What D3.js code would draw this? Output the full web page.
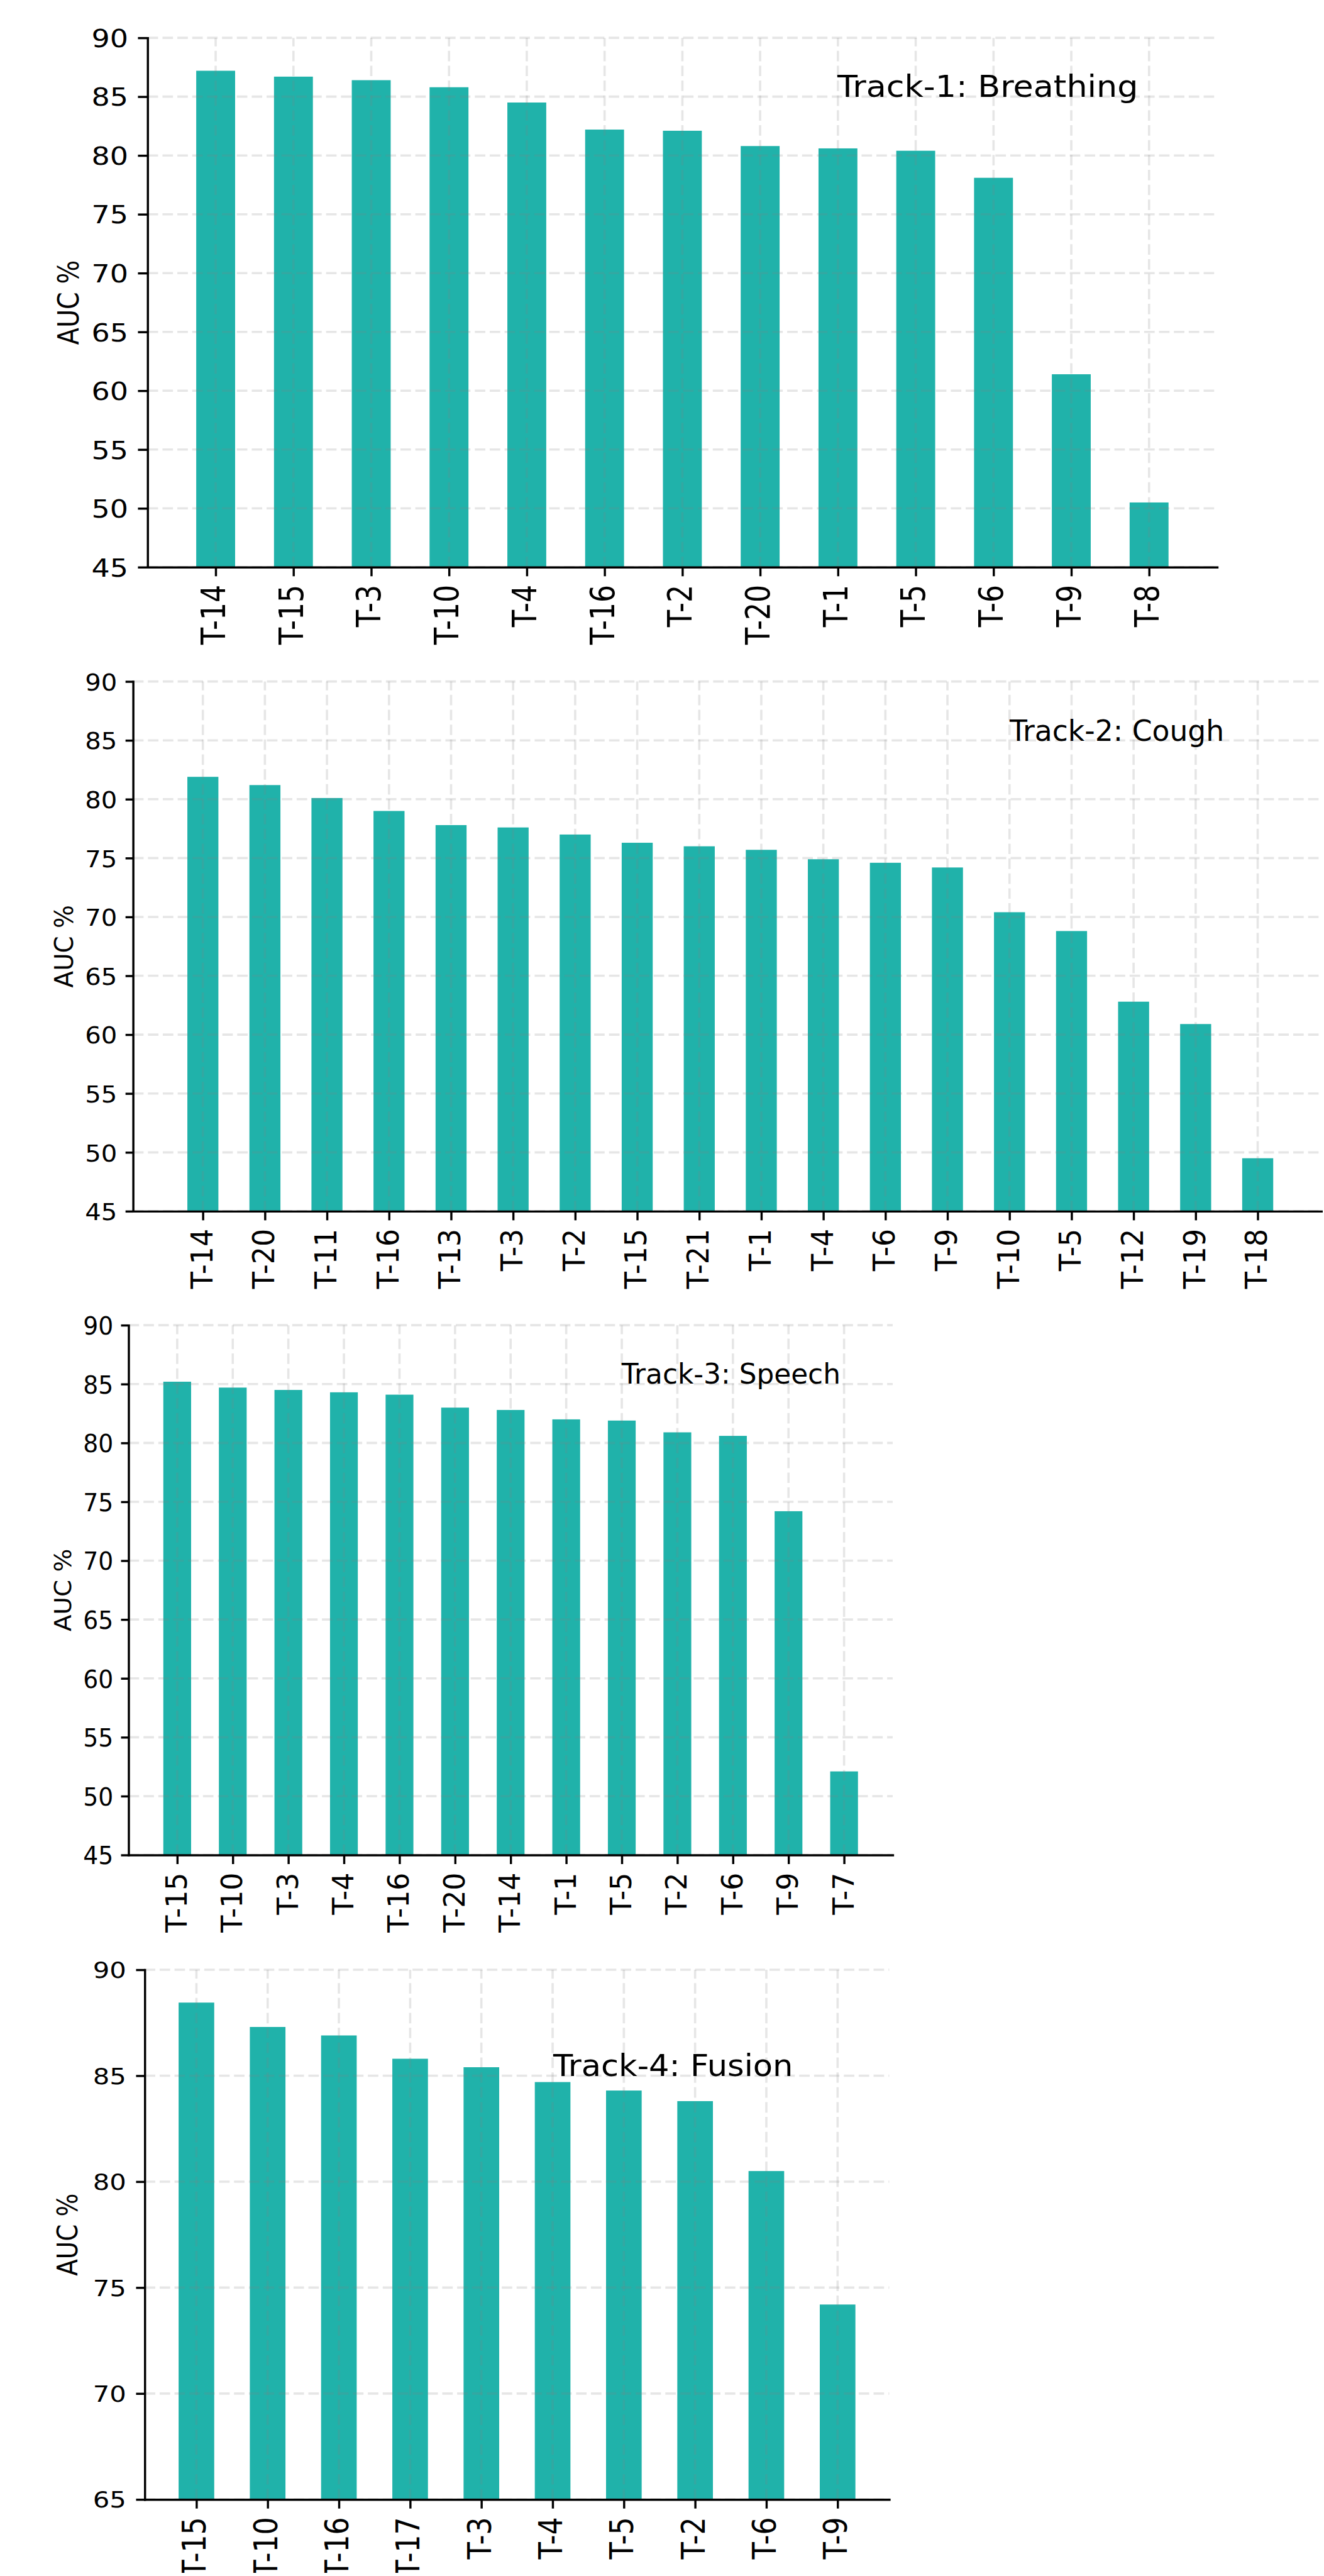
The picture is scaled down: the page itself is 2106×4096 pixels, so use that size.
<!DOCTYPE html>
<html>
<head>
<meta charset="utf-8">
<script src="https://cdn.jsdelivr.net/npm/d3@7"></script>
<style>
  html, body { margin: 0; padding: 0; background: #ffffff; }
  svg { display: block; }
</style>
</head>
<body>
<svg id="chart"></svg>
<script>
// AUC (%) per team, one list per challenge track, sorted best first
const breathingTeams = ['T-14','T-15','T-3','T-10','T-4','T-16','T-2','T-20','T-1','T-5','T-6','T-9','T-8'];
const breathingAuc   = [87.2, 86.7, 86.4, 85.8, 84.5, 82.2, 82.1, 80.8, 80.6, 80.4, 78.1, 61.4, 50.5];

const coughTeams = ['T-14','T-20','T-11','T-16','T-13','T-3','T-2','T-15','T-21','T-1','T-4','T-6','T-9','T-10','T-5','T-12','T-19','T-18'];
const coughAuc   = [81.9, 81.2, 80.1, 79.0, 77.8, 77.6, 77.0, 76.3, 76.0, 75.7, 74.9, 74.6, 74.2, 70.4, 68.8, 62.8, 60.9, 49.5];

const speechTeams = ['T-15','T-10','T-3','T-4','T-16','T-20','T-14','T-1','T-5','T-2','T-6','T-9','T-7'];
const speechAuc   = [85.2, 84.7, 84.5, 84.3, 84.1, 83.0, 82.8, 82.0, 81.9, 80.9, 80.6, 74.2, 52.1];

const fusionTeams = ['T-15','T-10','T-16','T-17','T-3','T-4','T-5','T-2','T-6','T-9'];
const fusionAuc   = [88.45, 87.3, 86.9, 85.8, 85.4, 84.7, 84.3, 83.8, 80.5, 74.2];

const aucTicks    = [45, 50, 55, 60, 65, 70, 75, 80, 85, 90];
const fusionTicks = [65, 70, 75, 80, 85, 90];

const trackTitles = ['Track-1: Breathing', 'Track-2: Cough', 'Track-3: Speech', 'Track-4: Fusion'];
const yAxisLabel  = 'AUC %';

// ---- layout & style -------------------------------------------------------
const W = 2330, H = 4531, S = 0.903;
const FONT = '"DejaVu Sans", "Liberation Sans", sans-serif';
const BAR = '#20b2aa';
const INK = '#000000';

const svg = d3.select('#chart')
  .attr('width', W * S)
  .attr('height', H * S)
  .attr('viewBox', `0 0 ${W} ${H}`)
  .attr('font-family', FONT);

svg.append('rect').attr('width', W).attr('height', H).attr('fill', '#ffffff');

// Frame of each stacked panel; sx values are horizontal text stretch factors
const panels = [
  { title: trackTitles[0], teams: breathingTeams, auc: breathingAuc, yDomain: [45, 90], ticks: aucTicks,
    left: 260, right: 2144, top: 66.6, bottom: 998.7,
    yTickLen: 17, yInkRight: 223, yFont: 43.5, ySx: 1.17, xFont: 49, xSx: 1.2,
    labelX: 138.5, labelFont: 44, labelSx: 1.17,
    titleX: 1475, titleY: 171, titleFont: 54, titleLen: 530 },
  { title: trackTitles[1], teams: coughTeams, auc: coughAuc, yDomain: [45, 90], ticks: aucTicks,
    left: 234.4, right: 2338.4, top: 1200, bottom: 2132.8,
    yTickLen: 13.3, yInkRight: 203.3, yFont: 42, ySx: 1.06, xFont: 49, xSx: 1.07,
    labelX: 128, labelFont: 43, labelSx: 1.05,
    titleX: 1778.4, titleY: 1304, titleFont: 50.5, titleLen: 378 },
  { title: trackTitles[2], teams: speechTeams, auc: speechAuc, yDomain: [45, 90], ticks: aucTicks,
    left: 226.5, right: 1572.5, top: 2333.5, bottom: 3266.4,
    yTickLen: 13.3, yInkRight: 196.7, yFont: 44, ySx: 0.95, xFont: 49, xSx: 1.06,
    labelX: 125, labelFont: 43, labelSx: 0.96,
    titleX: 1095, titleY: 2436, titleFont: 48.3, titleLen: 385.5 },
  { title: trackTitles[3], teams: fusionTeams, auc: fusionAuc, yDomain: [65, 90], ticks: fusionTicks,
    left: 255, right: 1566.4, top: 3468.5, bottom: 4401.2,
    yTickLen: 15.3, yInkRight: 219.4, yFont: 38.5, ySx: 1.2, xFont: 49, xSx: 1.17,
    labelX: 135.7, labelFont: 43, labelSx: 1.14,
    titleX: 974.5, titleY: 3656, titleFont: 52.4, titleLen: 422.5 }
];

function drawPanel(p) {
  const n = p.teams.length;
  const lo = -0.25, hi = n - 1 + 0.25, pad = 0.05 * (hi - lo);
  const x = d3.scaleLinear().domain([lo - pad, hi + pad]).range([p.left, p.right]);
  const y = d3.scaleLinear().domain(p.yDomain).range([p.bottom, p.top]);
  const g = svg.append('g');

  // bars (half the category step wide)
  g.append('g').selectAll('rect')
    .data(p.auc)
    .join('rect')
    .attr('x', (d, i) => x(i - 0.25))
    .attr('width', (d, i) => x(i + 0.25) - x(i - 0.25))
    .attr('y', d => y(d))
    .attr('height', d => y(p.yDomain[0]) - y(d))
    .attr('fill', BAR);

  // dashed grid, drawn over the bars with transparency
  const grid = g.append('g')
    .attr('stroke', '#808080')
    .attr('stroke-opacity', 0.2)
    .attr('stroke-width', 4)
    .attr('stroke-dasharray', '18.5 7.7')
    .attr('fill', 'none');
  grid.selectAll('line.h')
    .data(p.ticks)
    .join('line')
    .attr('class', 'h')
    .attr('x1', p.left).attr('x2', p.right)
    .attr('y1', d => y(d)).attr('y2', d => y(d));
  grid.selectAll('line.v')
    .data(d3.range(n))
    .join('line')
    .attr('class', 'v')
    .attr('x1', i => x(i)).attr('x2', i => x(i))
    .attr('y1', p.bottom).attr('y2', p.top);

  // x axis with vertical team labels
  const xAxis = d3.axisBottom(x)
    .tickValues(d3.range(n))
    .tickFormat(i => p.teams[i])
    .tickSize(16)
    .tickSizeOuter(0);
  const gx = g.append('g')
    .attr('transform', `translate(0,${p.bottom})`)
    .call(xAxis)
    .attr('font-family', FONT)
    .attr('font-size', p.xFont);
  gx.select('.domain').attr('stroke', INK).attr('stroke-width', 3.8).attr('stroke-linecap', 'square');
  gx.selectAll('.tick line').attr('stroke', INK).attr('stroke-width', 3.8);
  gx.selectAll('.tick text')
    .attr('y', null)
    .attr('dy', null)
    .attr('fill', INK)
    .attr('text-anchor', 'end')
    .attr('transform', `translate(16,31) scale(${p.xSx},1) rotate(-90)`);

  // y axis
  const yAxis = d3.axisLeft(y)
    .tickValues(p.ticks)
    .tickSize(p.yTickLen)
    .tickSizeOuter(0);
  const gy = g.append('g')
    .attr('transform', `translate(${p.left},0)`)
    .call(yAxis)
    .attr('font-family', FONT)
    .attr('font-size', p.yFont);
  gy.select('.domain').attr('stroke', INK).attr('stroke-width', 3.8).attr('stroke-linecap', 'square');
  gy.selectAll('.tick line').attr('stroke', INK).attr('stroke-width', 3.8);
  gy.selectAll('.tick text')
    .attr('x', null)
    .attr('dy', '0.3645em')
    .attr('fill', INK)
    .attr('text-anchor', 'end')
    .attr('transform', `translate(${p.yInkRight + 3 - p.left},0) scale(${p.ySx},1)`);

  // y axis title
  g.append('text')
    .attr('transform', `translate(${p.labelX},${(p.top + p.bottom) / 2}) scale(${p.labelSx},1) rotate(-90)`)
    .attr('text-anchor', 'middle')
    .attr('font-size', p.labelFont)
    .attr('fill', INK)
    .text(yAxisLabel);

  // track name inside the plot area
  g.append('text')
    .attr('x', p.titleX)
    .attr('y', p.titleY)
    .attr('font-size', p.titleFont)
    .attr('textLength', p.titleLen)
    .attr('lengthAdjust', 'spacingAndGlyphs')
    .attr('fill', INK)
    .text(p.title);
}

panels.forEach(drawPanel);
</script>
</body>
</html>
